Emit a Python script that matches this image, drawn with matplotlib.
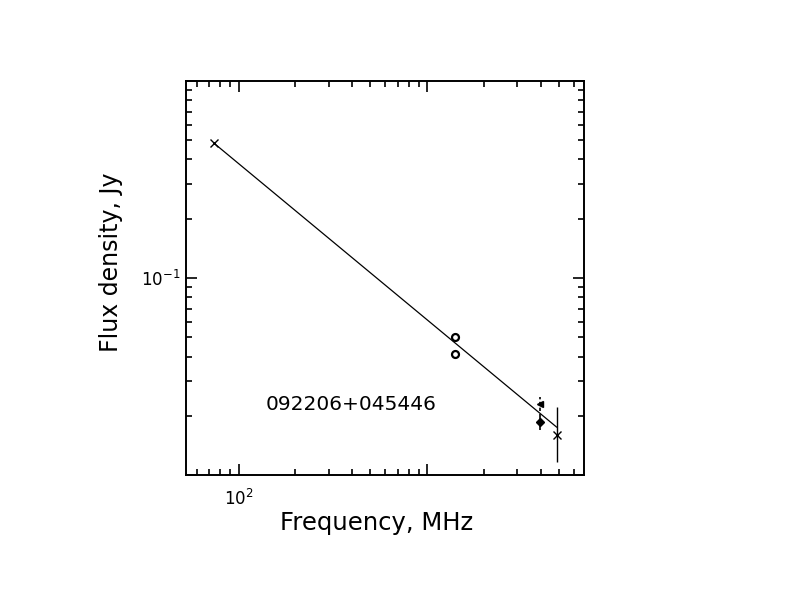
import numpy as np
import matplotlib
matplotlib.use('Agg')
import matplotlib.pyplot as plt
from matplotlib.ticker import FixedLocator, FixedFormatter, LogLocator, NullFormatter

freq_low = [74.0]
flux_low = [0.484]

freq_mid = [1400.0, 1400.0]
flux_mid = [0.0502, 0.0411]

freq_tri = [3960.0]
flux_tri = [0.0230]
tri_err = [[0.0018], [0.0019]]

freq_dia = [3960.0]
flux_dia = [0.0186]
dia_err = [[0.0016], [0.0019]]

freq_hi = [4850.0]
flux_hi = [0.0160]
hi_err = [[0.0043], [0.0063]]

# power-law fit
fit_range = [74.0, 4850.0]
fit_norm = 0.484
fit_alpha = -0.793

source_name = '092206+045446'

fig = plt.figure(figsize=(7.92, 6.12), dpi=100)
ax = fig.add_axes([0.2348, 0.2235, 0.5025, 0.6441])

nu = np.array(fit_range)
ax.plot(nu, fit_norm * (nu / fit_range[0]) ** fit_alpha, color='black', lw=0.9)

ax.plot(freq_low, flux_low, 'x', color='black', ms=6, mew=1.0)
ax.plot(freq_mid, flux_mid, 'o', mfc='white', mec='black', ms=5, mew=1.6)

eb = ax.errorbar(freq_tri, flux_tri, yerr=tri_err, fmt='<', color='black',
                 ms=5, elinewidth=1.2, capsize=0)
eb[2][0].set_linestyle((0, (2, 1.5)))
ax.errorbar(freq_dia, flux_dia, yerr=dia_err, fmt='D', color='black',
            ms=4.5, elinewidth=1.2, capsize=0)
ax.errorbar(freq_hi, flux_hi, yerr=hi_err, fmt='x', color='black',
            ms=6, mew=1.0, elinewidth=1.0, capsize=0)

ax.set_xscale('log')
ax.set_yscale('log')
ax.set_xlim(52.6, 6776)
ax.set_ylim(0.01, 1.0)

ax.xaxis.set_major_locator(FixedLocator([100, 1000]))
ax.xaxis.set_major_formatter(FixedFormatter([r'$10^{2}$', '']))
ax.xaxis.set_minor_locator(LogLocator(base=10, subs=np.arange(2, 10)))
ax.xaxis.set_minor_formatter(NullFormatter())
ax.yaxis.set_major_locator(FixedLocator([0.01, 0.1, 1.0]))
ax.yaxis.set_major_formatter(FixedFormatter(['', r'$10^{-1}$', '']))
ax.yaxis.set_minor_locator(LogLocator(base=10, subs=np.arange(2, 10)))
ax.yaxis.set_minor_formatter(NullFormatter())

ax.tick_params(which='both', direction='in', top=True, right=True, width=1.2, colors='black')
ax.tick_params(which='major', length=8, labelsize=12)
ax.tick_params(which='minor', length=4.5)
ax.tick_params(axis='x', which='major', pad=10)
ax.tick_params(axis='y', which='major', pad=4)
for s in ax.spines.values():
    s.set_linewidth(1.4)

ax.set_xlabel('Frequency, MHz', fontsize=17.5, labelpad=1, x=0.48)
ax.set_ylabel('Flux density, Jy', fontsize=17, labelpad=13, y=0.54)

ax.text(0.2, 0.18, source_name, transform=ax.transAxes, fontsize=14.5,
        va='center', ha='left')

fig.savefig('out.png', dpi=100, facecolor='white')
